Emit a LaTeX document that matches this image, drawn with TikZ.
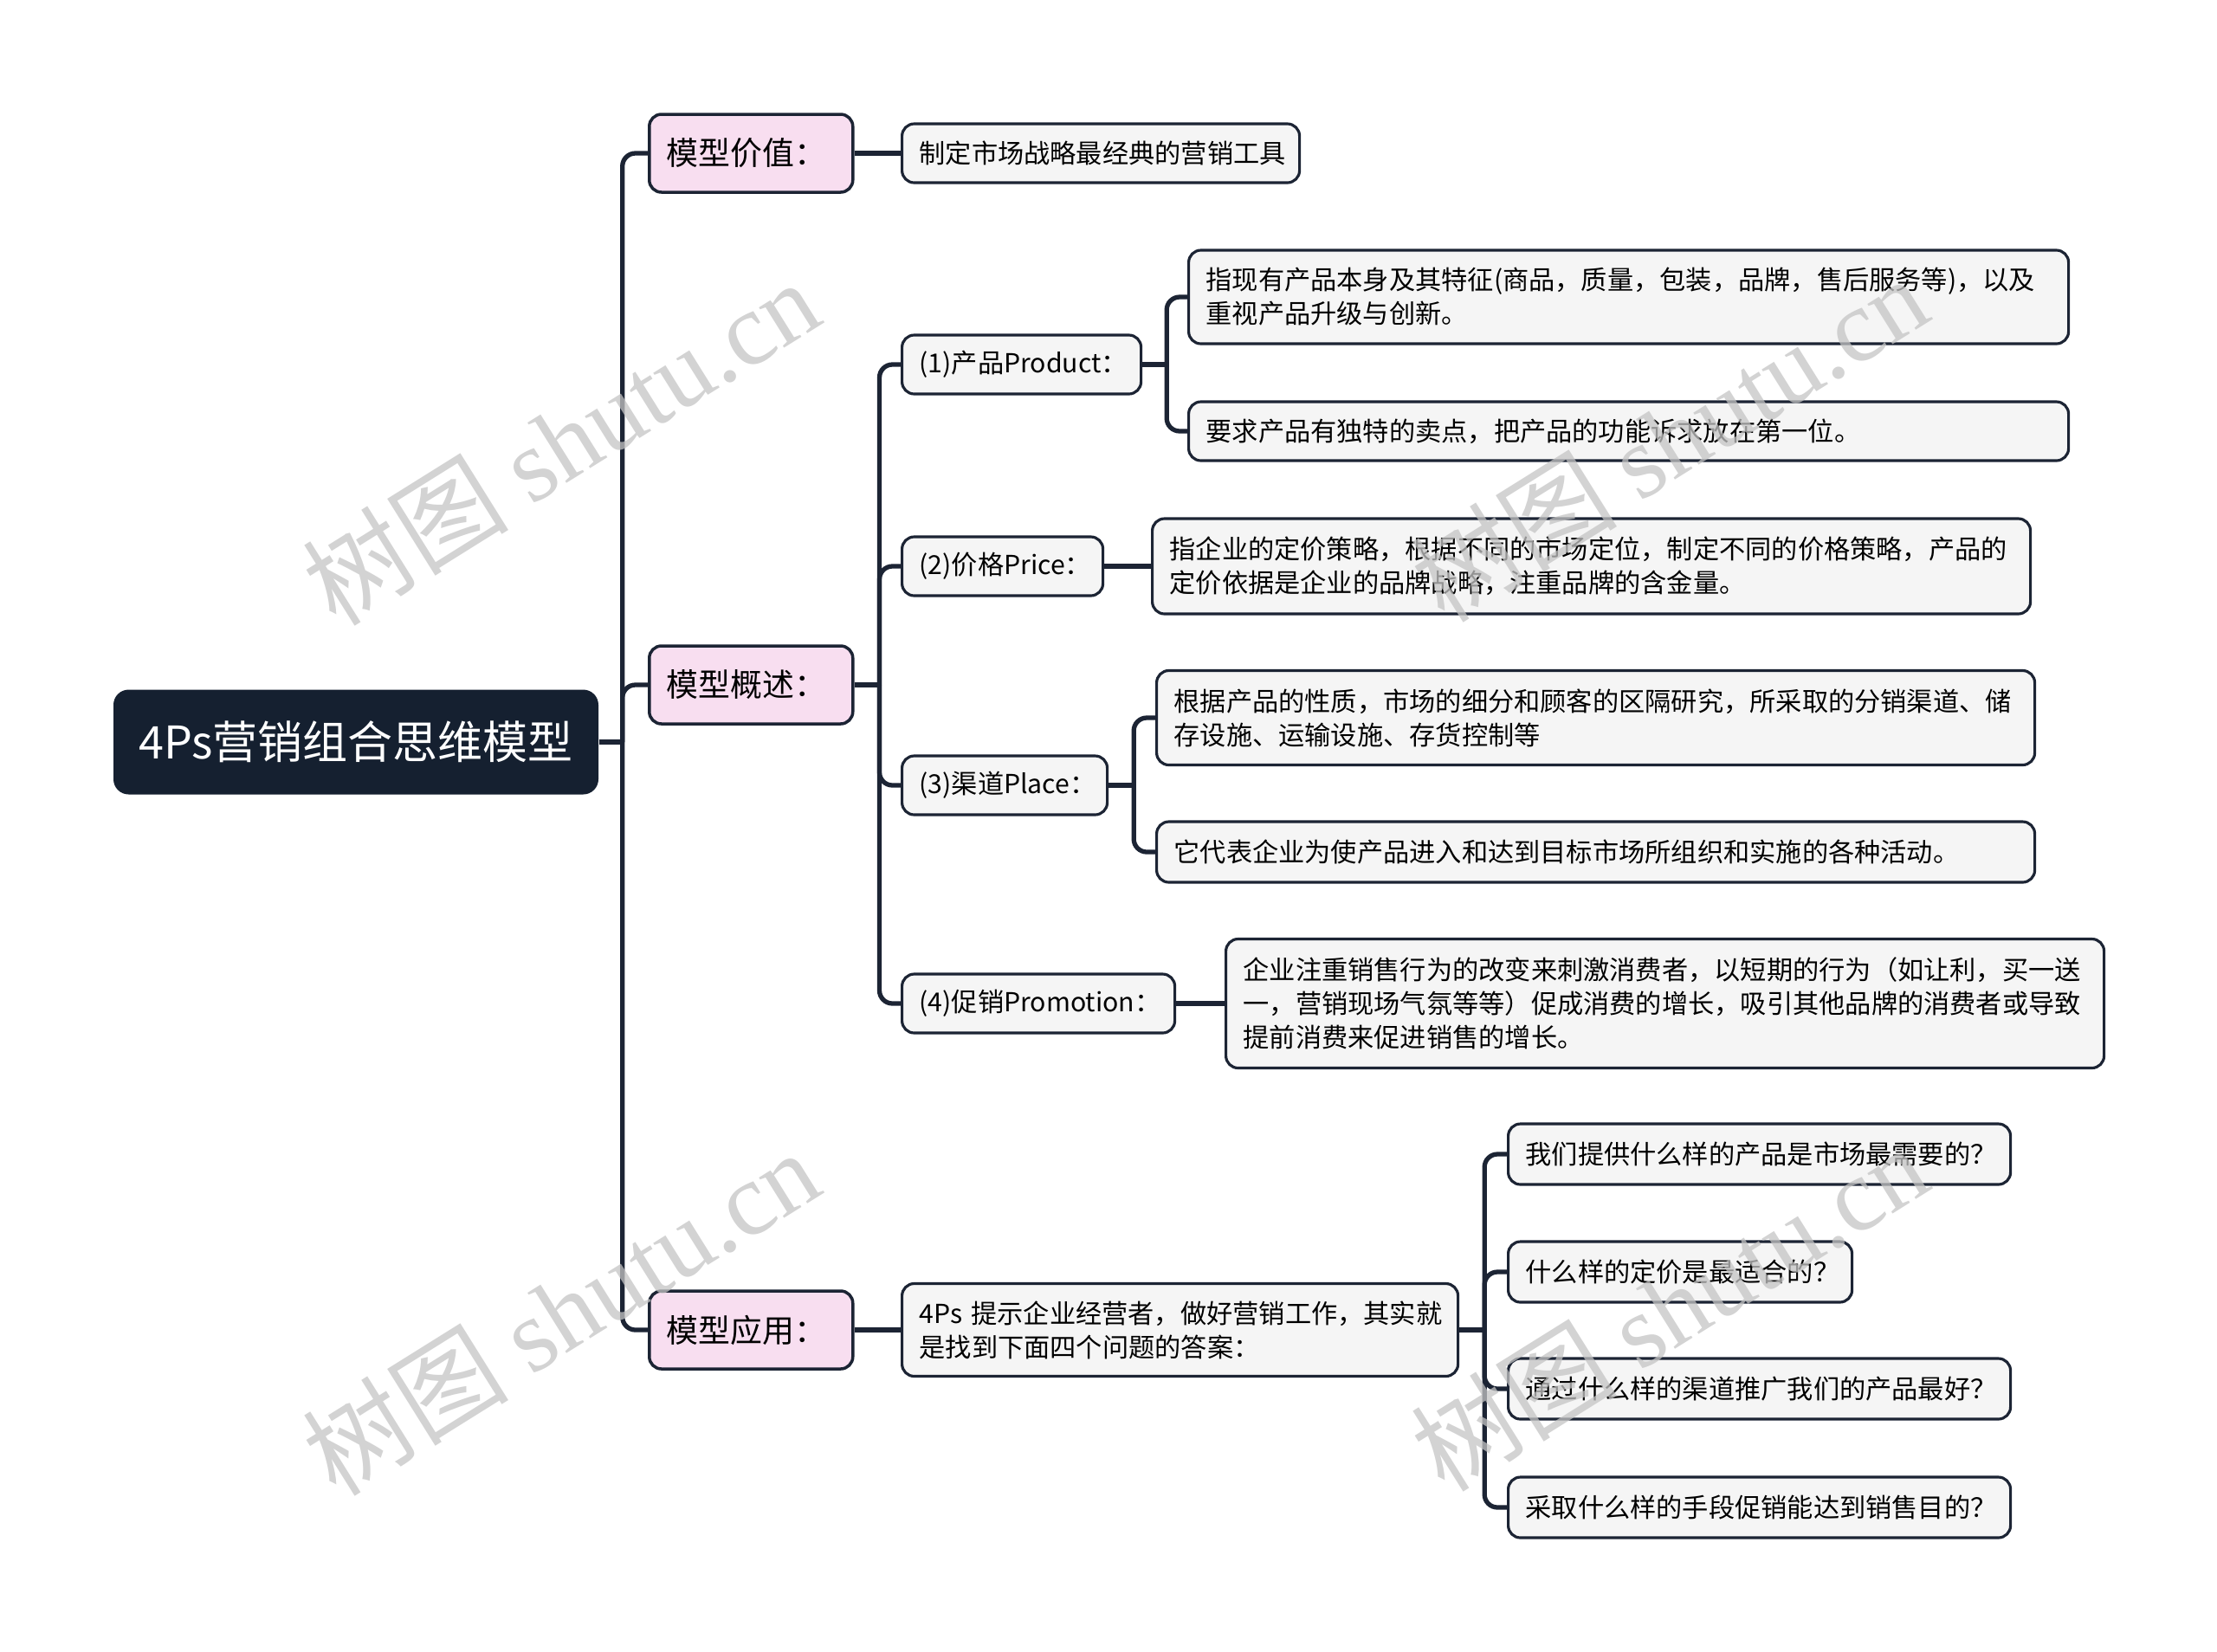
\documentclass[tikz,border=0pt]{standalone}
\usepackage{fontspec}
\setmainfont{Noto Sans CJK SC}
\newfontfamily\wmlatin{Liberation Serif}
\usetikzlibrary{positioning}
\definecolor{navy}{RGB}{21,32,48}
\definecolor{inkline}{RGB}{28,36,52}
\definecolor{topicpink}{RGB}{248,222,240}
\definecolor{itemgray}{RGB}{245,245,245}
\definecolor{wmgray}{RGB}{196,196,196}

\begin{document}
\begin{tikzpicture}[y=-1cm,
  link/.style={draw=inkline, line width=1.5pt, rounded corners=0.15cm},
  rootbox/.style={fill=navy, rounded corners=5pt, text=white, inner sep=0pt,
    font=\fontsize{14.8}{18}\selectfont, minimum width=5.6cm, minimum height=1.21cm},
  topicbox/.style={draw=inkline, line width=1pt, fill=topicpink, rounded corners=4pt,
    font=\fontsize{10.5}{13}\selectfont, anchor=west, inner xsep=0.2cm,
    text width=#1, align=left, minimum height=0.9cm},
  itembox/.style={draw=inkline, line width=0.9pt, fill=itemgray, rounded corners=4pt,
    font=\fontsize{8.6}{11.1}\selectfont, anchor=west, inner xsep=0.2cm,
    text width=#1, align=left, minimum height=0.68cm},
  wmark/.style={rotate=32, text=wmgray, opacity=0.75, font=\fontsize{34}{34}\selectfont}]
\useasboundingbox (0,0) rectangle (25.6,19.07);

% root and first level
\node[rootbox] (root) at (4.11,8.57) {4Ps营销组合思维模型};
\node[topicbox=1.95cm] (value) at (7.48,1.77) {模型价值：};
\node[topicbox=1.95cm] (outline) at (7.48,7.91) {模型概述：};
\node[topicbox=1.95cm] (use) at (7.48,15.36) {模型应用：};

% 模型价值
\node[itembox=4.19cm] (tool) at (10.40,1.77) {制定市场战略最经典的营销工具};

% 模型概述: the four Ps
\node[itembox=2.36cm] (product) at (10.40,4.21) {(1)产品Product：};
\node[itembox=1.92cm] (price) at (10.40,6.54) {(2)价格Price：};
\node[itembox=1.97cm] (place) at (10.40,9.07) {(3)渠道Place：};
\node[itembox=2.75cm] (promo) at (10.40,11.59) {(4)促销Promotion：};

\node[itembox=9.76cm, minimum height=1.08cm] (prodA) at (13.71,3.43)
  {指现有产品本身及其特征(商品，质量，包装，品牌，售后服务等)，以及\\重视产品升级与创新。};
\node[itembox=9.76cm] (prodB) at (13.71,4.98)
  {要求产品有独特的卖点，把产品的功能诉求放在第一位。};
\node[itembox=9.74cm, minimum height=1.10cm] (priceA) at (13.29,6.54)
  {指企业的定价策略，根据不同的市场定位，制定不同的价格策略，产品的\\定价依据是企业的品牌战略，注重品牌的含金量。};
\node[itembox=9.74cm, minimum height=1.09cm] (placeA) at (13.34,8.29)
  {根据产品的性质，市场的细分和顾客的区隔研究，所采取的分销渠道、储\\存设施、运输设施、存货控制等};
\node[itembox=9.74cm, minimum height=0.70cm] (placeB) at (13.34,9.84)
  {它代表企业为使产品进入和达到目标市场所组织和实施的各种活动。};
\node[itembox=9.74cm, minimum height=1.49cm] (promoA) at (14.14,11.59)
  {企业注重销售行为的改变来刺激消费者，以短期的行为（如让利，买一送\\一，营销现场气氛等等）促成消费的增长，吸引其他品牌的消费者或导致\\提前消费来促进销售的增长。};

% 模型应用
\node[itembox=6.02cm, minimum height=1.07cm] (answer) at (10.40,15.36)
  {4Ps~提示企业经营者，做好营销工作，其实就\\是找到下面四个问题的答案：};
\node[itembox=5.40cm, minimum height=0.70cm] (q1) at (17.40,13.33) {我们提供什么样的产品是市场最需要的？};
\node[itembox=3.57cm, minimum height=0.70cm] (q2) at (17.40,14.69) {什么样的定价是最适合的？};
\node[itembox=5.40cm, minimum height=0.70cm] (q3) at (17.40,16.04) {通过什么样的渠道推广我们的产品最好？};
\node[itembox=5.40cm, minimum height=0.70cm] (q4) at (17.40,17.41) {采取什么样的手段促销能达到销售目的？};

% connectors
\draw[link] (root.east) -- ++(0.27,0) coordinate (trunk);
\foreach \t in {value,outline,use} \draw[link] (trunk) |- (\t.west);
\draw[link] (value.east) -- (tool.west);
\draw[link] (outline.east) -- ++(0.29,0) coordinate (fourp);
\foreach \t in {product,price,place,promo} \draw[link] (fourp) |- (\t.west);
\draw[link] (product.east) -- ++(0.28,0) coordinate (prodfork);
\foreach \t in {prodA,prodB} \draw[link] (prodfork) |- (\t.west);
\draw[link] (price.east) -- (priceA.west);
\draw[link] (place.east) -- ++(0.29,0) coordinate (placefork);
\foreach \t in {placeA,placeB} \draw[link] (placefork) |- (\t.west);
\draw[link] (promo.east) -- (promoA.west);
\draw[link] (use.east) -- (answer.west);
\draw[link] (answer.east) -- ++(0.29,0) coordinate (askfork);
\foreach \t in {q1,q2,q3,q4} \draw[link] (askfork) |- (\t.west);

% watermarks
\foreach \wx/\wy [count=\i] in {6.47/5.10, 6.47/15.15, 19.27/5.06, 19.27/15.10}
  \node[wmark] (wm\i) at (\wx,\wy) {树图 {\wmlatin shutu.cn}};
\end{tikzpicture}
\end{document}
